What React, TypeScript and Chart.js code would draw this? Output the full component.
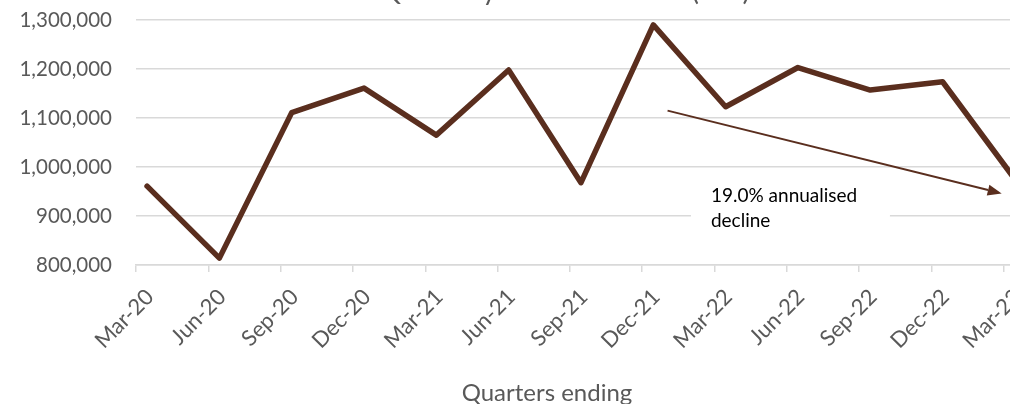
import React, { useEffect, useRef } from "react";
import { Chart, registerables } from "chart.js";

Chart.register(...registerables);

// ---- data ----
const TITLE = "Total Quarterly Visitor Arrivals (No.)";
const QUARTERS = [
  "Mar-20", "Jun-20", "Sep-20", "Dec-20",
  "Mar-21", "Jun-21", "Sep-21", "Dec-21",
  "Mar-22", "Jun-22", "Sep-22", "Dec-22", "Mar-23",
];
const VALUES = [
  961000, 814000, 1111000, 1161000,
  1065000, 1198000, 968000, 1290000,
  1123000, 1203000, 1157000, 1174000, 975000,
];
const Y_MIN = 800000;
const Y_MAX = 1300000;
const Y_STEP = 100000;
const X_AXIS_TITLE = "Quarters ending";
const NOTE_LINES = ["19.0% annualised", "decline"];
const ARROW_START = { x: 7.35, y: 1115000 };
const ARROW_END = { x: 11.97, y: 946000 };
const NOTE_ANCHOR = { x: 7.95, y: 929000 };

// ---- style / layout ----
const W = 1060;
const H = 450;
const OFFSET_TOP = 30;
const PLOT_TOP = 50;
const PLOT_BOTTOM = 295;
const PLOT_LEFT = 136;
const POINT_SHIFT = 0.153;
const X_MAX = 12.5;
const TITLE_RIGHT = 750;
const TITLE_BASELINE = 30;
const AXIS_TITLE_CENTER = 547;
const AXIS_TITLE_BASELINE = 430.5;
const BROWN = "#5A2E1E";
const GRID = "#d9d9d9";
const TEXT = "#595959";
const FONT = "Lato";

const textPlugin = {
  id: "texts",
  afterDraw(chart: any) {
    const { ctx } = chart;
    ctx.save();
    ctx.fillStyle = TEXT;
    ctx.textBaseline = "alphabetic";
    ctx.font = `28px ${FONT}`;
    ctx.textAlign = "right";
    ctx.fillText(TITLE, TITLE_RIGHT, TITLE_BASELINE);
    ctx.font = `24px ${FONT}`;
    ctx.textAlign = "center";
    ctx.fillText(X_AXIS_TITLE, AXIS_TITLE_CENTER, AXIS_TITLE_BASELINE);
    ctx.restore();
  },
};

const notePlugin = {
  id: "note",
  afterDatasetsDraw(chart: any) {
    const { ctx, scales } = chart;
    const x = scales.x;
    const y = scales.y;
    ctx.save();
    const tx = x.getPixelForValue(NOTE_ANCHOR.x);
    const ty = y.getPixelForValue(NOTE_ANCHOR.y);
    ctx.fillStyle = "#ffffff";
    ctx.fillRect(tx - 20, ty - 22, 199, 60);
    ctx.fillStyle = "#000000";
    ctx.font = `19px ${FONT}`;
    ctx.textBaseline = "alphabetic";
    ctx.textAlign = "left";
    ctx.fillText(NOTE_LINES[0], tx, ty);
    ctx.fillText(NOTE_LINES[1], tx, ty + 25.5);

    const x1 = x.getPixelForValue(ARROW_START.x);
    const y1 = y.getPixelForValue(ARROW_START.y);
    const x2 = x.getPixelForValue(ARROW_END.x);
    const y2 = y.getPixelForValue(ARROW_END.y);
    const a = Math.atan2(y2 - y1, x2 - x1);
    const head = 14;
    const hw = 5.5;
    const c = Math.cos(a);
    const s = Math.sin(a);
    ctx.strokeStyle = BROWN;
    ctx.fillStyle = BROWN;
    ctx.lineWidth = 2;
    ctx.beginPath();
    ctx.moveTo(x1, y1);
    ctx.lineTo(x2 - head * c, y2 - head * s);
    ctx.stroke();
    ctx.beginPath();
    ctx.moveTo(x2, y2);
    ctx.lineTo(x2 - head * c + hw * s, y2 - head * s - hw * c);
    ctx.lineTo(x2 - head * c - hw * s, y2 - head * s + hw * c);
    ctx.closePath();
    ctx.fill();
    ctx.restore();
  },
};

export default function App() {
  const ref = useRef<HTMLCanvasElement | null>(null);

  useEffect(() => {
    document.body.style.overflow = "hidden";
    const canvas = ref.current;
    if (!canvas) return;
    const chart = new Chart(canvas, {
      type: "line",
      data: {
        datasets: [
          {
            data: VALUES.map((v, i) => ({ x: i + POINT_SHIFT, y: v })),
            borderColor: BROWN,
            backgroundColor: BROWN,
            borderWidth: 5.5,
            pointRadius: 0,
            borderJoinStyle: "round",
            borderCapStyle: "round",
            tension: 0,
            clip: false,
          } as any,
        ],
      },
      options: {
        responsive: false,
        animation: false,
        layout: { padding: { left: 0, right: 20, top: PLOT_TOP, bottom: 0 } },
        plugins: {
          legend: { display: false },
          tooltip: { enabled: false },
          title: { display: false },
        },
        scales: {
          x: {
            type: "linear",
            min: 0,
            max: X_MAX,
            afterBuildTicks: (s: any) => {
              s.ticks = QUARTERS.map((_, i) => ({ value: i }));
            },
            afterFit: (s: any) => {
              s.height = H - PLOT_BOTTOM;
            },
            ticks: {
              callback: (v: any) => QUARTERS[v] ?? "",
              minRotation: 45,
              maxRotation: 45,
              autoSkip: false,
              padding: 12,
              labelOffset: 14,
              color: TEXT,
              font: { family: FONT, size: 22 },
            },
            grid: {
              drawOnChartArea: false,
              drawTicks: true,
              tickLength: 7,
              color: GRID,
              lineWidth: 1.5,
            },
            border: { display: true, color: GRID, width: 1.5 },
          },
          y: {
            min: Y_MIN,
            max: Y_MAX,
            afterFit: (s: any) => {
              s.width = PLOT_LEFT;
            },
            ticks: {
              stepSize: Y_STEP,
              padding: 24,
              color: TEXT,
              font: { family: FONT, size: 20.5 },
              callback: (v: any) => Number(v).toLocaleString("en-US"),
            },
            grid: { color: GRID, drawTicks: false, lineWidth: 1.5 },
            border: { display: false },
          },
        },
      } as any,
      plugins: [notePlugin, textPlugin],
    });
    return () => chart.destroy();
  }, []);

  return (
    <div
      style={{
        position: "fixed",
        left: 0,
        top: -OFFSET_TOP,
        width: W,
        height: H,
      }}
    >
      <canvas ref={ref} width={W} height={H} style={{ width: W, height: H }} />
    </div>
  );
}
